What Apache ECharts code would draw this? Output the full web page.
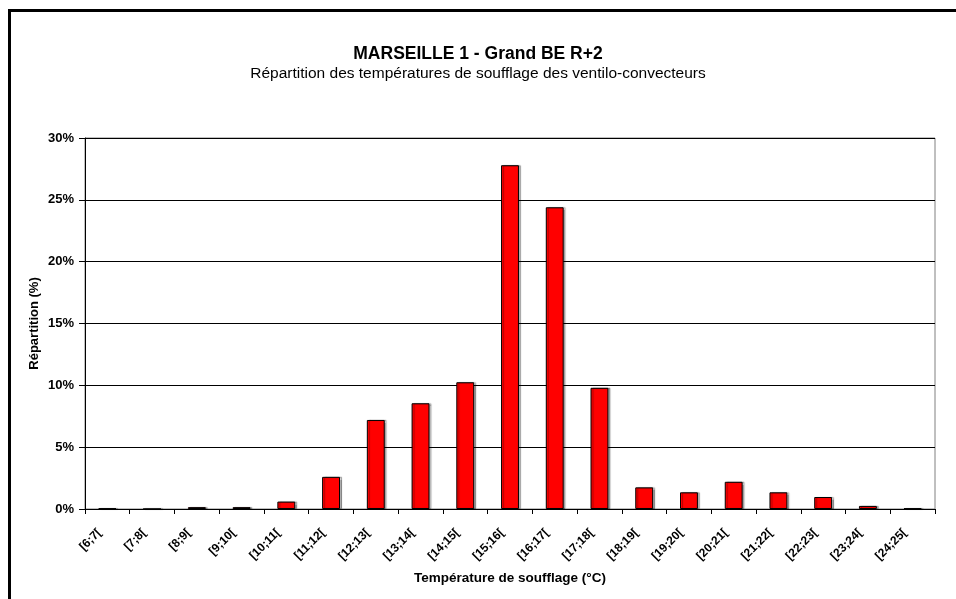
<!DOCTYPE html>
<html>
<head>
<meta charset="utf-8">
<script src="https://cdn.jsdelivr.net/npm/echarts@6/dist/echarts.min.js"></script>
<style>
html,body{margin:0;padding:0;background:#fff;}
#chart{width:956px;height:599px;}
</style>
</head>
<body>
<div id="chart"></div>
<script>
var titleText = 'MARSEILLE 1 - Grand BE R+2';
var subtitleText = 'Répartition des températures de soufflage des ventilo-convecteurs';
var xAxisName = 'Température de soufflage (°C)';
var yAxisName = 'Répartition (%)';
var categories = ['[6;7[','[7;8[','[8;9[','[9;10[','[10;11[','[11;12[','[12;13[','[13;14[','[14;15[','[15;16[','[16;17[','[17;18[','[18;19[','[19;20[','[20;21[','[21;22[','[22;23[','[23;24[','[24;25['];
var values = [0.05, 0, 0.15, 0.15, 0.6, 2.6, 7.2, 8.55, 10.25, 27.8, 24.4, 9.8, 1.75, 1.35, 2.2, 1.35, 0.97, 0.25, 0.05];
var yMin = 0, yMax = 30, yInterval = 5;

var chart = echarts.init(document.getElementById('chart'), null, {renderer:'canvas'});
var FONT = '"Liberation Sans", Arial, sans-serif';
chart.setOption({
  animation:false,
  backgroundColor:'#fff',
  title:[{
    text:titleText,
    left:'center',
    top:45,
    padding:0,
    textStyle:{fontFamily:FONT,fontSize:17.5,fontWeight:'bold',color:'#000'}
  },{
    text:subtitleText,
    left:'center',
    top:66,
    padding:0,
    textStyle:{fontFamily:FONT,fontSize:15.5,fontWeight:'normal',color:'#000'}
  }],
  graphic:[{
    type:'rect',
    shape:{x:9.5,y:10.5,width:1000,height:700},
    style:{fill:null,stroke:'#000',lineWidth:3},
    silent:true
  }],
  grid:{left:85,right:21,top:138,bottom:90,show:true,borderColor:'#808080',borderWidth:1,containLabel:false},
  xAxis:{
    type:'category',
    data:categories,
    name:xAxisName,
    nameLocation:'middle',
    nameGap:62,
    nameTextStyle:{fontFamily:FONT,fontSize:13.5,fontWeight:'bold',color:'#000'},
    axisLine:{lineStyle:{color:'#000',width:1}},
    axisTick:{show:true,length:5,lineStyle:{color:'#000'}},
    axisLabel:{interval:0,rotate:45,fontFamily:FONT,fontSize:12,fontWeight:'bold',color:'#000',margin:14,padding:[0,11,0,0]}
  },
  yAxis:{
    type:'value',
    min:yMin,max:yMax,interval:yInterval,
    name:yAxisName,
    nameLocation:'middle',
    nameGap:44,
    nameMoveOverlap:false,
    nameRotate:90,
    nameTextStyle:{fontFamily:FONT,fontSize:13,fontWeight:'bold',color:'#000'},
    axisLine:{show:true,lineStyle:{color:'#000',width:1}},
    axisTick:{show:true,length:6,lineStyle:{color:'#000'}},
    axisLabel:{formatter:'{value}%',fontFamily:FONT,fontSize:13,fontWeight:'bold',color:'#000',margin:11},
    splitLine:{show:true,lineStyle:{color:'#000',width:1}}
  },
  series:[{
    type:'bar',
    data:values,
    barWidth:'40%',
    itemStyle:{color:'#ff0000',borderColor:'#000',borderWidth:1,shadowColor:'rgba(0,0,0,0.3)',shadowOffsetX:2,shadowOffsetY:0,shadowBlur:1}
  }]
});
</script>
</body>
</html>
